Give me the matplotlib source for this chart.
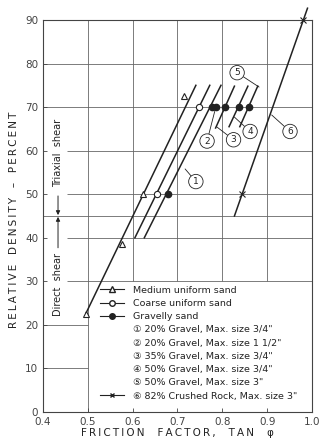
import matplotlib
matplotlib.use("Agg")
import matplotlib.pyplot as plt
from matplotlib.lines import Line2D

plt.rcParams['font.family'] = ['DejaVu Sans', 'Noto Sans CJK JP']

medium_x = [0.495, 0.577, 0.623, 0.715]
medium_y = [22.5, 38.5, 50.0, 72.5]
coarse_x = [0.654, 0.749]
coarse_y = [50.0, 70.0]
gravel_x = [0.679, 0.776, 0.785, 0.807, 0.837, 0.860]
gravel_y = [50.0, 70.0, 70.0, 70.0, 70.0, 70.0]
rock_x = [0.844, 0.981]
rock_y = [50.0, 90.0]

# fitted lines (end points)
medium_line_x = [0.496, 0.741]
medium_line_y = [22.7, 75.0]
coarse_line_x = [0.605, 0.772]
coarse_line_y = [40.0, 75.0]
g1_line_x = [0.626, 0.797]
g1_line_y = [40.0, 75.0]
g3_line_x = [0.785, 0.827]
g3_line_y = [65.2, 74.8]
g4_line_x = [0.815, 0.857]
g4_line_y = [65.5, 74.8]
g5_line_x = [0.839, 0.879]
g5_line_y = [65.5, 74.8]
rock_line_x = [0.827, 0.990]
rock_line_y = [45.0, 92.7]

# circled tags: text position and point of the leader
tag_names = ['1', '2', '3', '4', '5', '6']
tag_x = [0.741, 0.766, 0.825, 0.862, 0.833, 0.951]
tag_y = [52.9, 62.2, 62.5, 64.4, 77.9, 64.4]
tag_px = [0.717, 0.783, 0.787, 0.827, 0.882, 0.910]
tag_py = [55.8, 69.0, 65.5, 67.7, 74.6, 68.2]

legend_labels = [
    'Medium uniform sand',
    'Coarse uniform sand',
    'Gravelly sand',
    '\u2460 20% Gravel, Max. size 3/4"',
    '\u2461 20% Gravel, Max. size 1 1/2"',
    '\u2462 35% Gravel, Max. size 3/4"',
    '\u2463 50% Gravel, Max. size 3/4"',
    '\u2464 50% Gravel, Max. size 3"',
    '\u2465 82% Crushed Rock, Max. size 3"',
]

ink = '#222222'
grid_c = '#666666'

fig = plt.figure(figsize=(3.19, 4.42), dpi=100)
ax = fig.add_axes([0.1348, 0.0679, 0.8432, 0.8869])
ax.set_xlim(0.4, 1.0)
ax.set_ylim(0, 90)

# grid (left part kept clear for the shear notes, lower right holds the key)
gl = dict(color=grid_c, lw=0.6, zorder=1)
ax.hlines([70, 80], 0.4, 1.0, **gl)
ax.hlines([30, 40, 50, 60], 0.4535, 1.0, **gl)
ax.hlines(45, 0.4, 1.0, **gl)
ax.hlines([10, 20], 0.4, 0.5, **gl)
ax.vlines(0.5, 0, 90, **gl)
ax.vlines([0.6, 0.7, 0.8, 0.9], 30, 90, **gl)

lw = 1.1
ax.plot(medium_line_x, medium_line_y, color=ink, lw=lw)
ax.plot(coarse_line_x, coarse_line_y, color=ink, lw=lw)
ax.plot(g1_line_x, g1_line_y, color=ink, lw=lw)
ax.plot(g3_line_x, g3_line_y, color=ink, lw=lw)
ax.plot(g4_line_x, g4_line_y, color=ink, lw=lw)
ax.plot(g5_line_x, g5_line_y, color=ink, lw=lw)
ax.plot(rock_line_x, rock_line_y, color=ink, lw=lw, clip_on=False)

ax.plot(medium_x, medium_y, '^', ms=5, mfc='white', mec=ink, mew=0.8, ls='none', zorder=4)
ax.plot(coarse_x, coarse_y, 'o', ms=4.5, mfc='white', mec=ink, mew=0.8, ls='none', zorder=4)
ax.plot(gravel_x, gravel_y, 'o', ms=4.5, mfc=ink, mec=ink, ls='none', zorder=4)
ax.plot(rock_x, rock_y, 'x', ms=4, mec=ink, mew=0.8, ls='none', zorder=4, clip_on=False)

for name, tx, ty, px, py in zip(tag_names, tag_x, tag_y, tag_px, tag_py):
    ax.annotate(name, xy=(px, py), xytext=(tx, ty), ha='center', va='center',
                fontsize=6.5, color=ink,
                bbox=dict(boxstyle='circle,pad=0.3', fc='white', ec=ink, lw=0.6),
                arrowprops=dict(arrowstyle='-', lw=0.6, color=ink, shrinkA=0, shrinkB=0))

# shear notes
ax.text(0.4335, 59.4, 'Triaxial  shear', rotation=90, ha='center', va='center',
        fontsize=7, color=ink)
ax.annotate('', xy=(0.4335, 45.2), xytext=(0.4335, 49.6),
            arrowprops=dict(arrowstyle='-|>', lw=0.7, color=ink, mutation_scale=6,
                            shrinkA=0, shrinkB=0))
ax.text(0.4335, 29.2, 'Direct  shear', rotation=90, ha='center', va='center',
        fontsize=7, color=ink)
ax.annotate('', xy=(0.4335, 44.8), xytext=(0.4335, 37.7),
            arrowprops=dict(arrowstyle='-|>', lw=0.7, color=ink, mutation_scale=6,
                            shrinkA=0, shrinkB=0))

# key
handles = [
    Line2D([], [], color=ink, lw=0.8, marker='^', ms=5, mfc='white', mec=ink),
    Line2D([], [], color=ink, lw=0.8, marker='o', ms=4, mfc='white', mec=ink),
    Line2D([], [], color=ink, lw=0.8, marker='o', ms=4, mfc=ink, mec=ink),
    Line2D([], [], ls='none'),
    Line2D([], [], ls='none'),
    Line2D([], [], ls='none'),
    Line2D([], [], ls='none'),
    Line2D([], [], ls='none'),
    Line2D([], [], color=ink, lw=0.8, marker='x', ms=3.5, mec=ink),
]
leg = ax.legend(handles, legend_labels, loc='upper left', bbox_to_anchor=(0.527, 29.0),
                bbox_transform=ax.transData, frameon=False, fontsize=6.8,
                handlelength=2.6, handletextpad=0.9, labelspacing=0.45,
                borderpad=0, borderaxespad=0)
for t in leg.get_texts():
    t.set_color(ink)

ax.set_xticks([0.4, 0.5, 0.6, 0.7, 0.8, 0.9, 1.0])
ax.set_xticklabels(['0.4', '0.5', '0.6', '0.7', '0.8', '0.9', '1.0'])
ax.set_yticks(range(0, 91, 10))
ax.tick_params(direction='in', length=3, width=0.6, colors='#444444', labelsize=7.5)
for s in ax.spines.values():
    s.set_color('#444444')
    s.set_linewidth(0.8)

ts = '\u2009'
xlab = '    '.join(ts.join(w) for w in ['FRICTION', 'FACTOR,', 'TAN', '\u03c6'])
ylab = '   '.join(ts.join(w) for w in ['RELATIVE', 'DENSITY', '\u2013', 'PERCENT'])
ax.set_xlabel(xlab, fontsize=7.5, color=ink)
ax.set_ylabel(ylab, fontsize=7.5, color=ink)
ax.xaxis.set_label_coords(0.5, -0.041)
ax.yaxis.set_label_coords(-0.091, 0.49)

fig.savefig('out.png', dpi=100)
